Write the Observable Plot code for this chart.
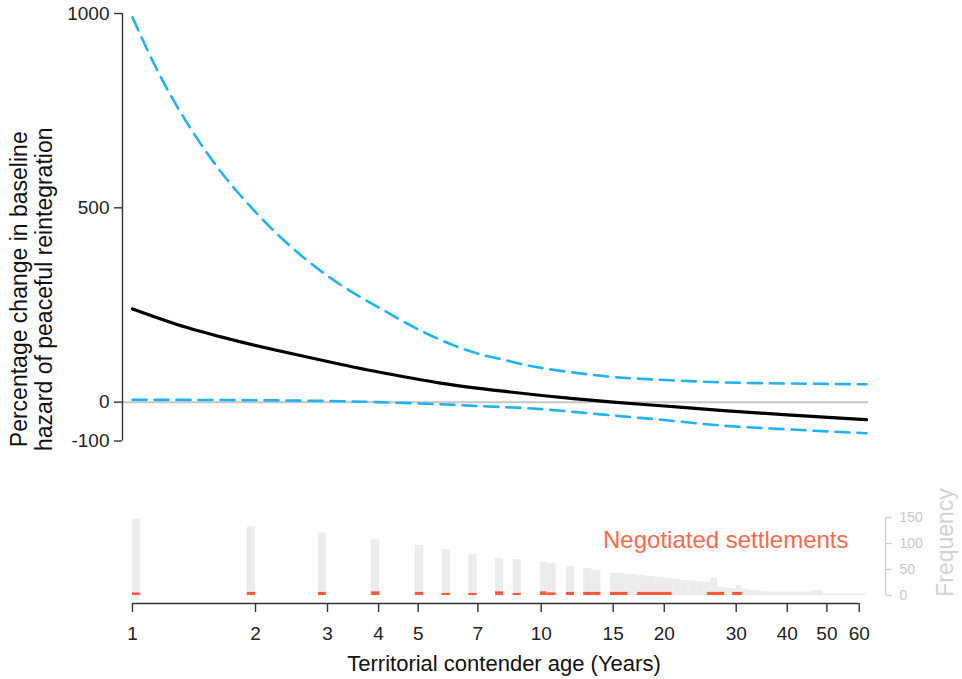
<!DOCTYPE html>
<html>
<head>
<meta charset="utf-8">
<script src="https://cdn.jsdelivr.net/npm/d3@7"></script>
<script src="https://cdn.jsdelivr.net/npm/@observablehq/plot@0.6"></script>
<style>
  html, body { margin: 0; padding: 0; background: #fff; }
  #wrap { position: relative; width: 962px; height: 679px; }
  #top, #bottom { position: absolute; left: 0; }
  #top { top: 0; }
  #bottom { top: 470px; }
</style>
</head>
<body>
<div id="wrap"><div id="top"></div><div id="bottom"></div></div>
<script>
// ---- Data ----
const xDomain = [1, 62.5];
const xTicks = [1, 2, 3, 4, 5, 7, 10, 15, 20, 30, 40, 50, 60];
const yTicks = [1000, 500, 0, -100];
const freqTicks = [0, 50, 100, 150];

// Estimated effect (black)
const estAge = [1, 1.36, 1.84, 2.68, 3.89, 5.67, 8.25, 12, 15, 20, 27.4, 40, 62.5];
const estValue = [240, 192, 155, 116, 80, 49, 27, 9, 0, -10, -21, -33, -45];

// Upper confidence bound (blue dashed)
const upperAge = [1, 1.16, 1.44, 1.67, 1.98, 2.37, 2.91, 4.12, 5.21, 6.11, 7.1, 8.1, 9.41, 10.73, 12.47, 14.5, 17.5, 20, 27.4, 40, 62.5];
const upperValue = [990, 846, 678, 584, 494, 412, 335, 236, 178, 146, 123, 109, 93, 83, 74, 66, 60, 57, 51, 48, 46];

// Lower confidence bound (blue dashed)
const lowerAge = [1, 2, 3, 4, 5.5, 7, 10, 12, 15.6, 20, 27.4, 40, 62.5];
const lowerValue = [6, 5, 3, 0, -5, -10, -18, -25, -36, -46, -60, -70, -80];

// Histogram of territorial contender age (gray)
const histFrom = [1.00, 1.91, 2.85, 3.84, 4.92, 5.72, 6.65, 7.73, 8.54, 9.95, 10.33, 11.52, 12.70, 13.32,
  14.77, 16, 17, 18, 19, 20, 21, 22, 23, 24, 25, 26, 27, 28, 29, 30, 31, 32, 34.5, 46, 49];
const histTo = [1.047, 2.00, 2.98, 4.03, 5.16, 6.00, 6.97, 8.09, 8.94, 10.33, 10.88, 12.06, 13.32, 14.00,
  16, 17, 18, 19, 20, 21, 22, 23, 24, 25, 26, 27, 28, 29, 30, 31, 32, 34.5, 46, 49, 62.5];
const histCount = [147, 132, 120, 107, 96, 88, 79, 71, 69, 64, 61, 56, 52, 48,
  43, 41, 39, 37, 35, 33, 31, 29, 28, 26, 25, 33, 15, 14, 13, 19, 12, 10, 7, 9, 3];

// Negotiated settlements (red)
const negFrom = [1.00, 1.91, 2.85, 3.84, 4.92, 5.72, 6.65, 7.73, 8.54, 9.95, 10.33, 11.52, 12.70, 14.77, 17.2, 25.5, 29.4];
const negTo = [1.047, 2.00, 2.98, 4.03, 5.16, 6.00, 6.97, 8.09, 8.94, 10.33, 10.88, 12.06, 14.00, 16.3, 20.9, 28.1, 31.1];
const negCount = [5, 6, 6, 7, 6, 4, 4, 7, 4, 7, 5, 6, 6, 6, 6, 6, 6];

const yTitle = "Percentage change in baseline\nhazard of peaceful reintegration";
const xTitle = "Territorial contender age (Years)";
const negLabel = "Negotiated settlements";
const freqLabel = "Frequency";

// ---- Tables built from the arrays ----
const est = estAge.map((a, i) => ({age: a, value: estValue[i]}));
const upper = upperAge.map((a, i) => ({age: a, value: upperValue[i]}));
const lower = lowerAge.map((a, i) => ({age: a, value: lowerValue[i]}));
const hist = histFrom.map((a, i) => ({from: a, to: histTo[i], n: histCount[i]}));
const neg = negFrom.map((a, i) => ({from: a, to: negTo[i], n: negCount[i]}));

const font = "'Liberation Sans', Arial, Helvetica, sans-serif";
const blue = "#1fb3f5";
const red = "#ff5a3a";
const fmt = d => (d < 0 ? "-" + Math.abs(d) : String(d));

const topPlot = Plot.plot({
  width: 962, height: 460,
  marginLeft: 122, marginRight: 94, marginTop: 13, marginBottom: 19.5,
  x: {type: "log", domain: xDomain, insetLeft: 10, insetRight: 2, axis: null},
  y: {domain: [-100, 1000]},
  style: {fontFamily: font, fontSize: "19px", color: "#222", background: "transparent"},
  marks: [
    Plot.ruleY([0], {stroke: "#c6c6c6", strokeWidth: 2}),
    Plot.ruleX([xDomain[0]], {x: d => d, y1: -100, y2: 1000, dx: -10, stroke: "#333", strokeWidth: 1.4}),
    Plot.axisY({ticks: yTicks, tickFormat: fmt, tickSize: 8, tickPadding: 5, fontSize: 19, label: null, stroke: "#333", strokeWidth: 1.4, fill: "#222"}),
    Plot.line(upper, {x: "age", y: "value", stroke: blue, strokeWidth: 2.6, strokeDasharray: "14,8", curve: "monotone-x"}),
    Plot.line(lower, {x: "age", y: "value", stroke: blue, strokeWidth: 2.6, strokeDasharray: "14,8", curve: "monotone-x"}),
    Plot.line(est, {x: "age", y: "value", stroke: "#000", strokeWidth: 3.2, curve: "monotone-x"}),
    Plot.text([yTitle], {text: d => d, frameAnchor: "left", rotate: -90, dx: -91, dy: 62, fontSize: 23, lineHeight: 1.08, textAnchor: "middle", lineAnchor: "middle", fill: "#111"})
  ]
});
document.getElementById("top").append(topPlot);

const bottomPlot = Plot.plot({
  width: 962, height: 209,
  marginLeft: 122, marginRight: 77, marginTop: 47, marginBottom: 76,
  x: {type: "log", domain: xDomain, insetLeft: 10, insetRight: 19},
  y: {domain: [0, 150], insetBottom: 8},
  style: {fontFamily: font, fontSize: "19px", color: "#222", background: "transparent"},
  marks: [
    Plot.rectY(hist, {x1: "from", x2: "to", y: "n", fill: "#ececec"}),
    Plot.rectY(neg, {x1: "from", x2: "to", y: "n", fill: red}),
    Plot.ruleY([0], {x1: xTicks[0], x2: xTicks[xTicks.length - 1], dy: 8, stroke: "#333", strokeWidth: 1.4}),
    Plot.axisX({ticks: xTicks, tickFormat: () => "", tickSize: 9, label: null, stroke: "#333", strokeWidth: 1.4}),
    Plot.text(xTicks, {x: d => d, text: d => String(d), frameAnchor: "bottom", lineAnchor: "top", dy: 23, fontSize: 19, fill: "#222"}),
    Plot.ruleX([xDomain[1]], {x: d => d, y1: 0, y2: 150, dx: 19, stroke: "#cfcfcf", strokeWidth: 1.4}),
    Plot.axisY({anchor: "right", ticks: freqTicks, tickSize: 6, tickPadding: 8, fontSize: 14, label: null, stroke: "#cfcfcf", strokeWidth: 1.4, fill: "#c8c8c8"}),
    Plot.text([negLabel], {text: d => d, frameAnchor: "top-right", textAnchor: "end", lineAnchor: "top", dx: -37, dy: 13, fontSize: 24, fill: "#f86a4c"}),
    Plot.text([freqLabel], {text: d => d, frameAnchor: "right", rotate: -90, dx: 60, dy: -18, fontSize: 23, textAnchor: "middle", lineAnchor: "middle", fill: "#d2d2d2"}),
    Plot.text([xTitle], {text: d => d, frameAnchor: "bottom", dy: 60, fontSize: 22, lineAnchor: "middle", fill: "#111"})
  ]
});
document.getElementById("bottom").append(bottomPlot);
</script>
</body>
</html>
